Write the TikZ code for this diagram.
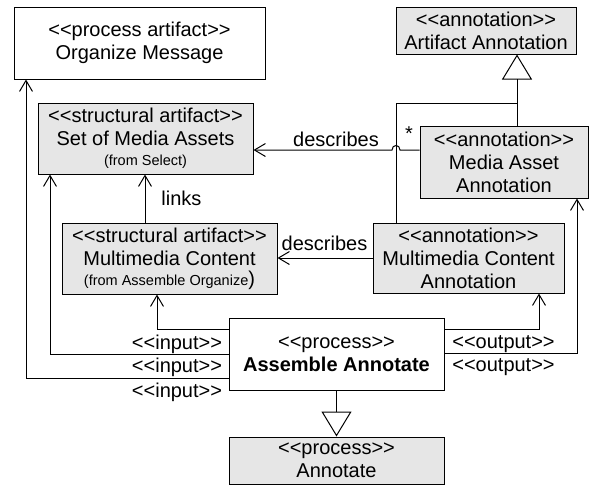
\documentclass[tikz,border=0pt]{standalone}
\usepackage{fontspec}
\setmainfont{Liberation Sans}
\usetikzlibrary{arrows.meta}
\definecolor{boxgray}{RGB}{230,230,230}
\newcommand{\stereo}[1]{<{}<#1>{}>}
\newcommand{\smalltext}{\fontsize{14.5}{17}\selectfont}
\begin{document}
\begin{tikzpicture}[x=1pt,y=-1pt,
  every node/.style={font=\fontsize{20}{23}\selectfont, inner sep=0pt, text=black},
  uml/.style={draw=black, line width=1pt, align=center},
  shaded/.style={uml, fill=boxgray},
  plain/.style={uml, fill=white},
  link/.style={draw=black, line width=1pt},
  assoc/.style={link, -{Straight Barb[length=11pt,width=13pt]}},
  gen/.style={link, -{Triangle[open,length=25pt,width=30pt]}}]
\fill[white] (0,0) rectangle (596,488);
\useasboundingbox (0,0) rectangle (596,488);

% classes
\node[plain, minimum width=251pt, minimum height=72pt] (om) at (139.5,43)
  {\stereo{process artifact}\\Organize Message};
\node[shaded, minimum width=215pt, minimum height=71pt] (sma) at (145.5,138.5)
  {\stereo{structural artifact}\\Set of Media Assets\\[-3pt]{\smalltext (from Select)}};
\node[shaded, minimum width=180pt, minimum height=47pt] (aa) at (486,30.5)
  {\stereo{annotation}\\Artifact Annotation};
\node[shaded, minimum width=168pt, minimum height=72pt] (maa) at (504,162)
  {\stereo{annotation}\\Media Asset\\Annotation};
\node[shaded, minimum width=215pt, minimum height=71pt] (mc) at (169.5,258.5)
  {\stereo{structural artifact}\\Multimedia Content\\[-3pt]{\smalltext (from Assemble Organize}{)}};
\node[shaded, minimum width=191pt, minimum height=70pt] (mca) at (468.5,258)
  {\stereo{annotation}\\Multimedia Content\\Annotation};
\node[plain, minimum width=215pt, minimum height=72pt] (asm) at (336.5,354)
  {\stereo{process}\\\textbf{Assemble Annotate}};
\node[shaded, minimum width=215pt, minimum height=47pt] (ann) at (336.5,460.5)
  {\stereo{process}\\Annotate};

% routing coordinates
\coordinate (gx) at (517,0);
\coordinate (vb) at (396,103);
\coordinate (d1) at (0,150);
\coordinate (hop) at (vb |- d1);
\coordinate (lx) at (145,0);
\coordinate (in1) at (157,329);
\coordinate (in2) at (50,354);
\coordinate (in3) at (26,378);
\coordinate (out1) at (539,329);
\coordinate (out2) at (577,353);

% generalizations
\draw[gen] (maa.north -| gx) -- (aa.south -| gx);
\draw[link] (mca.north -| vb) -- (vb) -- (vb -| gx);
\draw[gen] (asm.south) -- (ann.north);

% associations
\draw[assoc] (maa.west |- d1) -- ([xshift=4pt]hop)
  .. controls ([xshift=4pt,yshift=6pt]hop) and ([xshift=-4pt,yshift=6pt]hop) ..
  ([xshift=-4pt]hop) -- (sma.east |- d1);
\draw[assoc] (mca.west) -- (mc.east |- mca.west);
\draw[assoc] (mc.north -| lx) -- (sma.south -| lx);

% inputs and outputs
\draw[assoc] (asm.west |- in1) -- (in1) -- (mc.south -| in1);
\draw[assoc] (asm.west |- in2) -- (in2) -- (sma.south -| in2);
\draw[assoc] (asm.west |- in3) -- (in3) -- (om.south -| in3);
\draw[assoc] (asm.east |- out1) -- (out1) -- (mca.south -| out1);
\draw[assoc] (asm.east |- out2) -- (out2) -- (maa.south -| out2);

% labels
\node (lbd1) at (336,139) {describes};
\node (lbd2) at (324.5,243) {describes};
\node (lbstar) at (409,134) {*};
\node (lblinks) at (181.5,198) {links};
\node (lbi1) at (177,344) {\stereo{input}};
\node (lbi2) at (177,367) {\stereo{input}};
\node (lbi3) at (177,392) {\stereo{input}};
\node (lbo1) at (503.5,344) {\stereo{output}};
\node (lbo2) at (503.5,367) {\stereo{output}};
\end{tikzpicture}
\end{document}
